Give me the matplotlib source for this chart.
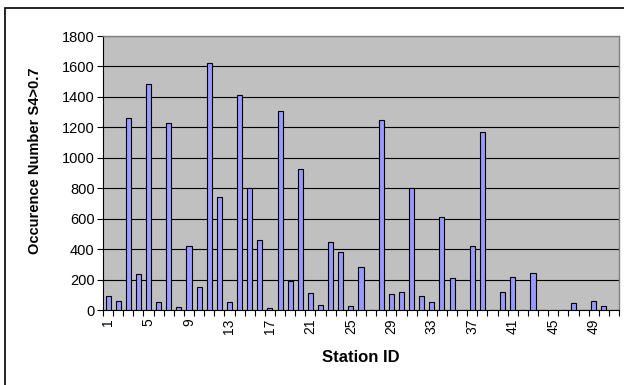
import matplotlib
matplotlib.use("Agg")
import matplotlib.pyplot as plt
from matplotlib.patches import Rectangle
from matplotlib.ticker import FixedLocator, NullFormatter

plt.rcParams['font.family'] = ['Liberation Sans', 'DejaVu Sans']

# stacja 1..51, ostatnia pusta
stations = list(range(1, 52))
counts = [95, 60, 1260, 235, 1485, 50, 1230, 18, 420, 150,
          1620, 740, 50, 1410, 800, 460, 15, 1310, 190, 925,
          110, 35, 445, 380, 25, 280, 0, 1250, 105, 120,
          800, 95, 50, 610, 210, 0, 420, 1170, 0, 120,
          215, 0, 240, 0, 0, 0, 45, 0, 60, 25,
          0]
label_stations = list(range(1, 50, 4))
yticks = list(range(0, 1801, 200))

fig = plt.figure(figsize=(6.24, 3.85), dpi=100)
ax = fig.add_axes([103 / 624, 1 - 310 / 385, (619 - 103) / 624, (310 - 36) / 385])

# ramka calego wykresu
fig.patches.append(Rectangle((5 / 624, -0.05), 1.2, 1 - 8 / 385 + 0.05,
                             transform=fig.transFigure, fill=False,
                             edgecolor="black", linewidth=1.2))

ax.set_facecolor("#C0C0C0")
ax.bar(stations, counts, width=0.5, color="#9999FF", edgecolor="black",
       linewidth=0.8, zorder=3)

ax.set_xlim(0.5, len(stations) + 0.5)
ax.set_ylim(0, 1800)
ax.set_yticks(yticks)
ax.yaxis.grid(True, color="black", linewidth=0.8, zorder=1)
ax.set_axisbelow(True)

# kreski na granicach kategorii, etykiety w srodku
ax.xaxis.set_major_locator(FixedLocator([s + 0.5 for s in [0] + stations]))
ax.xaxis.set_major_formatter(NullFormatter())
ax.set_xticks(label_stations, minor=True)
ax.set_xticklabels([str(s) for s in label_stations], minor=True, rotation=90,
                   fontsize=10)
ax.tick_params(axis="x", which="major", length=4, width=0.8, direction="out")
ax.tick_params(axis="x", which="minor", length=0, pad=6)
ax.tick_params(axis="y", length=4, width=0.8, labelsize=10.5, pad=2)

for side in ("top", "right"):
    ax.spines[side].set_color("#808080")
    ax.spines[side].set_linewidth(1.0)
for side in ("left", "bottom"):
    ax.spines[side].set_color("black")
    ax.spines[side].set_linewidth(0.8)

fig.text(361 / 624, 1 - 358 / 385, "Station ID", ha="center", va="center",
         fontsize=12, fontweight="bold")
fig.text(35 / 624, 1 - 161 / 385, "Occurence Number S4>0.7", ha="center",
         va="center", rotation=90, fontsize=10.5, fontweight="bold")

fig.savefig("out.png", dpi=100)
